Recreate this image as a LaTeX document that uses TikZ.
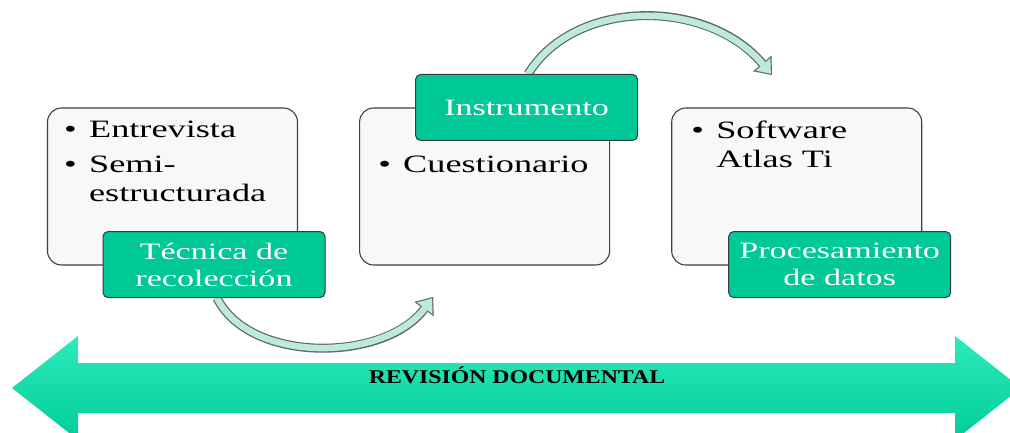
\documentclass[tikz,border=0pt]{standalone}
\usepackage{fontspec}
\usepackage{tikz}
\usetikzlibrary{arrows.meta,positioning,calc,backgrounds}

\newfontfamily\bodyfont[FakeStretch=1.45]{Liberation Serif}
\newfontfamily\bandfont[FakeStretch=1.22]{Liberation Serif}

\definecolor{boxfill}{RGB}{248,248,248}
\definecolor{boxline}{RGB}{64,64,64}
\definecolor{tagfill}{RGB}{0,200,150}
\definecolor{tagline}{RGB}{55,60,58}
\definecolor{bandtop}{RGB}{45,235,186}
\definecolor{bandbot}{RGB}{0,205,152}
\definecolor{flowfill}{RGB}{190,235,215}
\definecolor{flowline}{RGB}{95,105,100}

\newcommand{\bul}{\makebox[25pt][l]{\textbullet}}

\begin{document}
\begin{tikzpicture}[
  x=1pt, y=-1pt,
  box/.style={draw=boxline, fill=boxfill, line width=1.1pt, rounded corners=14pt,
    minimum width=250pt, minimum height=157pt, inner sep=0pt},
  tag/.style={draw=tagline, fill=tagfill, line width=1pt, rounded corners=5pt,
    minimum width=222pt, minimum height=66pt, inner sep=0pt, align=center, text=white,
    font=\bodyfont\fontsize{23.5}{27}\selectfont},
  items/.style={anchor=base west, inner sep=0pt, align=left,
    font=\bodyfont\fontsize{25}{28.5}\selectfont},
  flow/.style={draw=flowfill, line width=6.5pt, shorten >=1.8pt,
    -{Triangle[width=19pt, length=12pt, line width=0.01pt]},
    preaction={draw=flowline, line width=9pt, shorten >=0pt,
      -{Triangle[width=24pt, length=15pt, line width=0.01pt]}}}
]
\useasboundingbox (0,0) rectangle (1010,433);
% banner
\path[top color=bandtop, bottom color=bandbot] (12,388) -- (78,336) -- (78,363) -- (955,363)
  -- (955,336) -- (1021,388) -- (955,440) -- (955,413) -- (78,413) -- (78,440) -- cycle;
\node[anchor=base, inner sep=0pt, font=\bandfont\bfseries\fontsize{19.5}{20}\selectfont]
  (rev) at (517,383) {REVISIÓN DOCUMENTAL};
% boxes
\node[box] (box1) at (172.5,186.5) {};
\node[box, right=61pt of box1] (box2) {};
\node[box, right=61pt of box2] (box3) {};
\node[items] (t1) at ($(box1.north west)+(17,94)$)
  {\bul Entrevista\\[6.5pt]\bul Semi-\\\hspace*{25pt}estructurada};
\node[items] (t2) at ($(box2.north west)+(19,65)$) {\bul Cuestionario};
\node[items] (t3) at ($(box3.north west)+(20,60)$) {\bul Software\\\hspace*{25pt}Atlas Ti};
% tags
\node[tag] (lab1) at ($(box1.south)+(41.5,-1)$) {Técnica de\\recolección};
\node[tag] (lab2) at ($(box2.north)+(42,0)$) {Instrumento};
\node[tag] (lab3) at ($(box3.south)+(43,-1)$) {Procesamiento\\de datos};
% curved arrows
\coordinate (end1) at (433,297);
\coordinate (end2) at (772,75);
\begin{scope}[on background layer]
\draw[flow] ([xshift=3pt]lab1.south) .. controls (250,364) and (385,362) .. (end1);
\draw[flow] ([xshift=1.5pt]lab2.north) .. controls (575,-2) and (707,-2) .. (end2);
\end{scope}
\end{tikzpicture}
\end{document}
